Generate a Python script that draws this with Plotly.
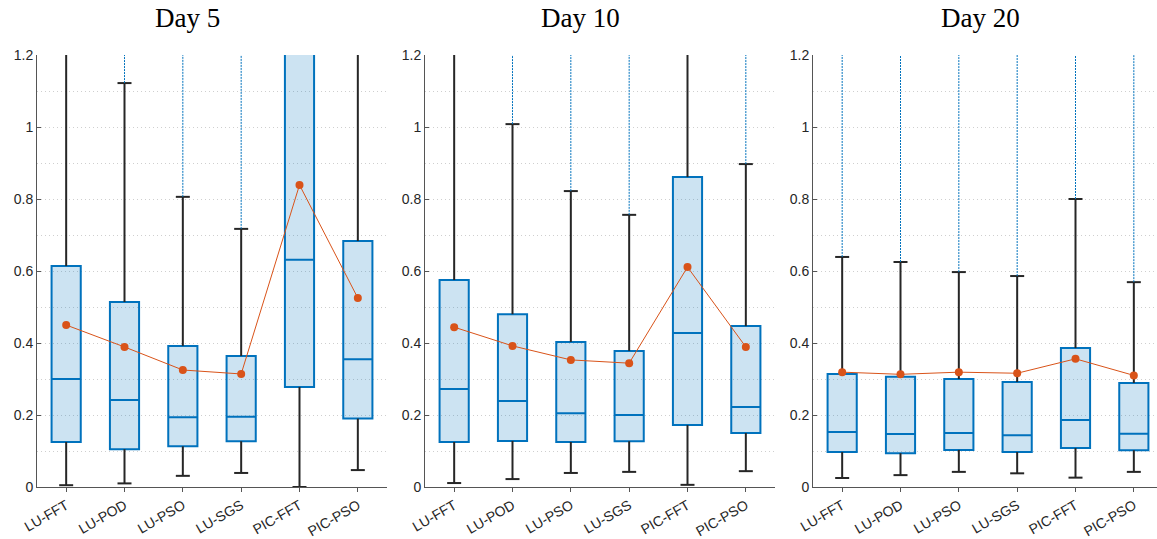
import plotly.graph_objects as go

categories = ["LU-FFT", "LU-POD", "LU-PSO", "LU-SGS", "PIC-FFT", "PIC-PSO"]
days = ["Day 5", "Day 10", "Day 20"]

# Day 5
d5_lower = [0.005, 0.010, 0.031, 0.039, 0.000, 0.047]
d5_q1 = [0.125, 0.105, 0.113, 0.127, 0.278, 0.190]
d5_median = [0.300, 0.242, 0.194, 0.195, 0.631, 0.355]
d5_q3 = [0.614, 0.514, 0.392, 0.364, 1.300, 0.683]
d5_upper = [1.400, 1.122, 0.806, 0.717, 2.000, 1.400]
d5_mean = [0.450, 0.389, 0.325, 0.314, 0.839, 0.525]
d5_outlier_max = [None, 2.0, 2.0, 2.0, None, None]

# Day 10
d10_lower = [0.011, 0.022, 0.039, 0.042, 0.006, 0.044]
d10_q1 = [0.125, 0.128, 0.125, 0.127, 0.172, 0.150]
d10_median = [0.272, 0.239, 0.205, 0.200, 0.428, 0.222]
d10_q3 = [0.575, 0.480, 0.403, 0.378, 0.861, 0.447]
d10_upper = [1.400, 1.008, 0.822, 0.756, 1.500, 0.897]
d10_mean = [0.444, 0.392, 0.353, 0.344, 0.611, 0.389]
d10_outlier_max = [None, 2.0, 2.0, 2.0, None, 2.0]

# Day 20
d20_lower = [0.025, 0.033, 0.042, 0.038, 0.026, 0.042]
d20_q1 = [0.097, 0.094, 0.103, 0.097, 0.108, 0.102]
d20_median = [0.153, 0.147, 0.150, 0.144, 0.186, 0.148]
d20_q3 = [0.314, 0.306, 0.300, 0.292, 0.386, 0.289]
d20_upper = [0.639, 0.625, 0.597, 0.586, 0.800, 0.569]
d20_mean = [0.319, 0.313, 0.319, 0.316, 0.356, 0.310]
d20_outlier_max = [2.0, 2.0, 2.0, 2.0, 2.0, 2.0]

panels = [
    (d5_lower, d5_q1, d5_median, d5_q3, d5_upper, d5_mean, d5_outlier_max),
    (d10_lower, d10_q1, d10_median, d10_q3, d10_upper, d10_mean, d10_outlier_max),
    (d20_lower, d20_q1, d20_median, d20_q3, d20_upper, d20_mean, d20_outlier_max),
]

W, H = 1157, 539
BLUE = "#0072BD"
ORANGE = "#D95319"
FILL = "rgba(0,114,189,0.2)"
DARK = "#262626"
GRID = "#cfcfcf"

# layout in pixels
ax_left = [37, 425, 813]
ax_width = 350
y_top_px, y_bot_px = 55, 487
title_x_px = [187, 580, 980]

fig = go.Figure()
pos = list(range(1, len(categories) + 1))
cap = 0.12

for i, (lo, q1, med, q3, up, mean, omax) in enumerate(panels):
    xa = "x" if i == 0 else f"x{i+1}"
    ya = "y" if i == 0 else f"y{i+1}"
    # whiskers
    wx, wy = [], []
    for p, a, b, c, d in zip(pos, lo, q1, q3, up):
        wx += [p, p, None, p, p, None, p - cap, p + cap, None, p - cap, p + cap, None]
        wy += [b, a, None, c, d, None, a, a, None, d, d, None]
    fig.add_trace(go.Scatter(x=wx, y=wy, mode="lines", xaxis=xa, yaxis=ya,
                             line=dict(color=DARK, width=2), showlegend=False,
                             hoverinfo="skip"))
    # outliers (dense, shown as dotted blue line)
    ox, oy = [], []
    for p, d, m in zip(pos, up, omax):
        if m is not None:
            ox += [p, p, None]
            oy += [d, m, None]
    if ox:
        fig.add_trace(go.Scatter(x=ox, y=oy, mode="lines", xaxis=xa, yaxis=ya,
                                 line=dict(color=BLUE, width=1, dash="2px,1px"),
                                 showlegend=False, hoverinfo="skip"))
    # boxes
    fig.add_trace(go.Box(x=pos, q1=q1, median=med, q3=q3, lowerfence=q1, upperfence=q3,
                         xaxis=xa, yaxis=ya, width=0.5, whiskerwidth=0,
                         line=dict(color=BLUE, width=2), fillcolor=FILL,
                         showlegend=False, boxpoints=False))
    # mean
    fig.add_trace(go.Scatter(x=pos, y=mean, mode="lines+markers", xaxis=xa, yaxis=ya,
                             line=dict(color=ORANGE, width=1),
                             marker=dict(color=ORANGE, size=8),
                             showlegend=False))

    x0 = ax_left[i] / W
    x1 = min((ax_left[i] + ax_width) / W, 1.0)
    xr_end = 0.5 + (min(ax_left[i] + ax_width, W) - ax_left[i]) / ax_width * 6
    key = "xaxis" if i == 0 else f"xaxis{i+1}"
    ykey = "yaxis" if i == 0 else f"yaxis{i+1}"
    fig.update_layout(**{
        key: dict(domain=[x0, x1], anchor=ya, range=[0.5, xr_end], automargin=False,
                  tickmode="array", tickvals=pos, ticktext=categories,
                  tickangle=-30, ticks="outside", ticklen=4, tickcolor="#555",
                  showline=True, linecolor="#555", linewidth=1,
                  showgrid=False, zeroline=False,
                  tickfont=dict(family="Liberation Sans", size=14, color=DARK)),
        ykey: dict(domain=[(H - y_bot_px) / H, (H - y_top_px) / H], anchor=xa,
                   range=[0, 1.2], tickmode="array", automargin=False,
                   tickvals=[0, 0.2, 0.4, 0.6, 0.8, 1.0, 1.2],
                   ticktext=["0", "0.2", "0.4", "0.6", "0.8", "1", "1.2"],
                   ticks="inside", ticklen=4, tickcolor="#555",
                   showline=True, linecolor="#555", linewidth=1,
                   showgrid=True, gridcolor=GRID, griddash="1px,3px", gridwidth=1,
                   minor=dict(dtick=0.1, showgrid=True, gridcolor=GRID,
                              griddash="1px,3px", gridwidth=1),
                   zeroline=False,
                   tickfont=dict(family="Liberation Sans", size=14, color=DARK)),
    })
    fig.add_annotation(text=days[i], x=title_x_px[i] / W, y=1 - 18 / H,
                       xref="paper", yref="paper", showarrow=False,
                       xanchor="center", yanchor="middle",
                       font=dict(family="Liberation Serif", size=27, color="black"))

fig.update_layout(width=W, height=H, margin=dict(l=0, r=0, t=0, b=0, autoexpand=False),
                  plot_bgcolor="white", paper_bgcolor="white", boxmode="overlay")

fig.write_html("out.html", config={"displayModeBar": False},
               post_script="document.body.style.margin='0';document.body.style.overflow='hidden';")
